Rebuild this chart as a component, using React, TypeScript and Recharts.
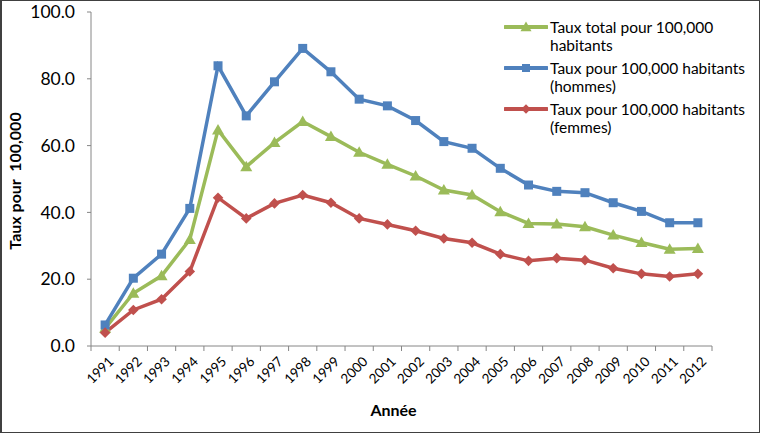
import { LineChart, Line, XAxis, YAxis } from 'recharts';

const YEARS = [
  '1991', '1992', '1993', '1994', '1995', '1996', '1997', '1998', '1999', '2000', '2001',
  '2002', '2003', '2004', '2005', '2006', '2007', '2008', '2009', '2010', '2011', '2012',
];

const TOTAL = [5.3, 15.8, 21.0, 31.9, 64.7, 53.7, 60.9, 67.2, 62.7, 58.0, 54.4, 50.9, 46.7, 45.2, 40.2, 36.7, 36.5, 35.7, 33.2, 31.0, 29.0, 29.2];
const HOMMES = [6.3, 20.3, 27.5, 41.2, 83.9, 68.9, 79.1, 89.1, 82.1, 73.9, 71.9, 67.5, 61.2, 59.2, 53.2, 48.2, 46.3, 45.9, 42.9, 40.3, 36.9, 36.9];
const FEMMES = [4.0, 10.8, 14.0, 22.3, 44.4, 38.2, 42.7, 45.2, 42.9, 38.2, 36.4, 34.5, 32.2, 30.9, 27.5, 25.5, 26.3, 25.7, 23.3, 21.6, 20.8, 21.6];

const Y_TICKS = [0, 20, 40, 60, 80, 100];

const SERIES = [
  { key: 'total', name: 'Taux total pour 100,000 habitants', lines: ['Taux total pour 100,000', 'habitants'], color: '#9BBB59', shape: 'triangle' },
  { key: 'hommes', name: 'Taux pour 100,000 habitants (hommes)', lines: ['Taux pour 100,000 habitants', '(hommes)'], color: '#4F81BD', shape: 'square' },
  { key: 'femmes', name: 'Taux pour 100,000 habitants (femmes)', lines: ['Taux pour 100,000 habitants', '(femmes)'], color: '#C0504D', shape: 'diamond' },
];

const data = YEARS.map((year, i) => ({
  year,
  total: TOTAL[i],
  hommes: HOMMES[i],
  femmes: FEMMES[i],
}));

const W = 760;
const H = 433;
const M = { top: 12, right: 48, left: 0, bottom: 0 };
const Y_W = 91;
const PLOT_W = W - M.left - M.right - Y_W;
const FONT = 'Lato, "Open Sans", sans-serif';
const AXIS = '#868686';

function Marker({ cx, cy, shape, color, s = 4.5 }: any) {
  if (cx == null || cy == null) return null;
  if (shape === 'square') {
    return <rect x={cx - s} y={cy - s} width={s * 2} height={s * 2} fill={color} />;
  }
  if (shape === 'triangle') {
    const t = s + 1.5;
    return <polygon points={`${cx},${cy - t} ${cx + t},${cy + t * 0.75} ${cx - t},${cy + t * 0.75}`} fill={color} />;
  }
  const d = s + 0.8;
  return <polygon points={`${cx},${cy - d} ${cx + d},${cy} ${cx},${cy + d} ${cx - d},${cy}`} fill={color} />;
}

function XTick({ x, y, payload, index }: any) {
  const band = PLOT_W / YEARS.length;
  const ax = x + 6;
  const ay = y + 13;
  return (
    <g>
      <line x1={x - band / 2} x2={x - band / 2} y1={y} y2={y + 5} stroke={AXIS} />
      {index === YEARS.length - 1 && (
        <line x1={x + band / 2} x2={x + band / 2} y1={y} y2={y + 5} stroke={AXIS} />
      )}
      <text
        x={ax}
        y={ay}
        dy="0.35em"
        transform={`rotate(-45, ${ax}, ${ay})`}
        textAnchor="end"
        fontSize={13.5}
        fontFamily={FONT}
        fill="#000"
      >
        {payload.value}
      </text>
    </g>
  );
}

function LegendBox() {
  return (
    <div style={{ position: 'absolute', left: 502, top: 17, width: 255, fontFamily: FONT, fontSize: 15.5, color: '#000', lineHeight: '18px' }}>
      {SERIES.map(s => (
        <div key={s.key} style={{ display: 'flex', alignItems: 'flex-start', marginBottom: 5 }}>
          <svg width={44} height={18} style={{ flex: 'none' }}>
            <line x1={1} x2={43} y1={9} y2={9} stroke={s.color} strokeWidth={4} strokeLinecap="round" />
            <Marker cx={22} cy={9} shape={s.shape} color={s.color} s={4} />
          </svg>
          <div style={{ marginLeft: 2 }}>
            {s.lines.map(l => <div key={l}>{l}</div>)}
          </div>
        </div>
      ))}
    </div>
  );
}

export default function App() {
  return (
    <div style={{ position: 'relative', width: W, height: H, boxSizing: 'border-box', border: '1px solid #404040', borderLeft: '2px solid #404040', background: '#fff' }}>
      <style>{'body{margin:0}'}</style>
      <div style={{ position: 'absolute', left: -2, top: -1 }}>
        <LineChart width={W} height={H} data={data} margin={M}>
          <XAxis
            dataKey="year"
            scale="point"
            padding={{ left: PLOT_W / YEARS.length / 2, right: PLOT_W / YEARS.length / 2 }}
            stroke={AXIS}
            tickLine={false}
            tickSize={0}
            tickMargin={0}
            height={87}
            interval={0}
            tick={<XTick />}
            label={({ viewBox }: any) => (
              <text
                x={viewBox.x + viewBox.width / 2 - 8}
                y={viewBox.y + 70}
                textAnchor="middle"
                fontSize={16}
                fontWeight="bold"
                fontFamily={FONT}
                fill="#000"
              >
                Année
              </text>
            )}
          />
          <YAxis
            domain={[0, 100]}
            ticks={Y_TICKS}
            width={Y_W}
            stroke={AXIS}
            tickSize={4}
            tickMargin={12}
            tickFormatter={(v: number) => v.toFixed(1)}
            tick={{ fill: '#000', fontSize: 17.5, fontFamily: FONT }}
            label={({ viewBox }: any) => {
              const cx = viewBox.x + 14;
              const cy = viewBox.y + viewBox.height / 2 + 2;
              return (
                <text
                  x={cx}
                  y={cy}
                  transform={`rotate(-90, ${cx}, ${cy})`}
                  textAnchor="middle"
                  dominantBaseline="central"
                  fontSize={16}
                  fontWeight="bold"
                  fontFamily={FONT}
                  fill="#000"
                  style={{ whiteSpace: 'pre' }}
                >
                  {'Taux pour  100,000'}
                </text>
              );
            }}
          />
          {SERIES.map(s => (
            <Line
              key={s.key}
              dataKey={s.key}
              name={s.name}
              stroke={s.color}
              strokeWidth={3.5}
              isAnimationActive={false}
              dot={(p: any) => <Marker key={`${s.key}-${p.index}`} cx={p.cx} cy={p.cy} shape={s.shape} color={s.color} />}
              activeDot={false}
            />
          ))}
        </LineChart>
      </div>
      <LegendBox />
    </div>
  );
}
